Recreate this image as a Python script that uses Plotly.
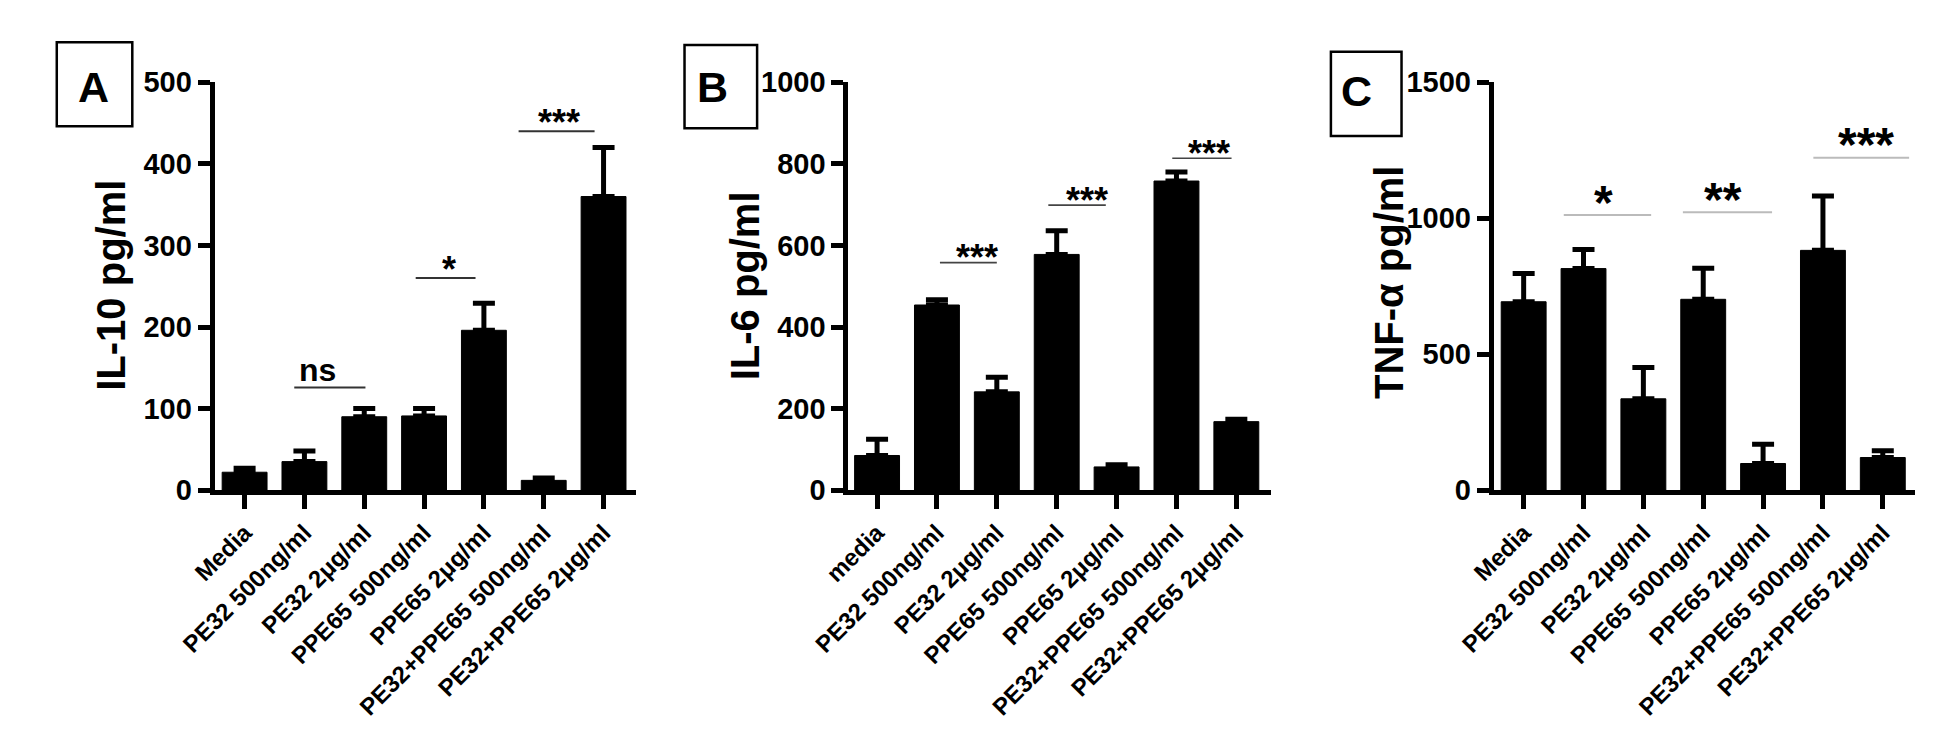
import plotly.graph_objects as go

W, H = 1933, 731
FONT = "Liberation Sans, Arial, sans-serif"

# x categories
labels_a = ["Media", "PE32 500ng/ml", "PE32 2μg/ml", "PPE65 500ng/ml",
            "PPE65 2μg/ml", "PE32+PPE65 500ng/ml", "PE32+PPE65 2μg/ml"]
labels_b = ["media", "PE32 500ng/ml", "PE32 2μg/ml", "PPE65 500ng/ml",
            "PPE65 2μg/ml", "PE32+PPE65 500ng/ml", "PE32+PPE65 2μg/ml"]
labels_c = labels_a

# means and error (upper only)
il10_mean = [22, 35, 90, 91, 196, 12, 360]
il10_err = [5, 13, 10, 9, 33, 3, 60]
il6_mean = [85, 454, 241, 578, 57, 758, 168]
il6_err = [40, 13, 36, 58, 5, 22, 6]
tnf_mean = [693, 815, 336, 702, 98, 882, 120]
tnf_err = [104, 70, 115, 114, 71, 200, 25]

# significance brackets: (line start, line end, height, text x, label)
sig_a = [(0.83, 2.02, 126, 1.22, "ns"), (2.86, 3.86, 260, 3.42, "*"),
         (4.58, 5.85, 440, 5.25, "***")]
sig_b = [(1.05, 2.0, 558, 1.67, "***"), (2.86, 3.82, 699, 3.5, "***"),
         (4.93, 5.92, 814, 5.54, "***")]
sig_c = [(0.67, 2.13, 1012, 1.33, "*"), (2.66, 4.15, 1022, 3.33, "**"),
         (4.84, 6.44, 1223, 5.72, "***")]


def px(x):
    return x / W


def py(y):
    return 1 - y / H


panels = [
    dict(labels=labels_a, mean=il10_mean, err=il10_err, sig=sig_a,
         dom=(173, 603), xr=[-0.5, 6.55], ytop=500, dtick=100,
         title="IL-10 pg/ml", tpos=(67, 273), letter="A", box=(12, 19, 89, 107),
         lpos=(49, 66), sigcol="#333333", sigw=2, sigsize=36, sigshift=9),
    dict(labels=labels_b, mean=il6_mean, err=il6_err, sig=sig_b,
         dom=(819, 1250), xr=[-0.48, 6.58], ytop=1000, dtick=200,
         title="IL-6 pg/ml", tpos=(714, 274), letter="B", box=(652, 22, 726, 109),
         lpos=(681, 66), sigcol="#444444", sigw=1.6, sigsize=36, sigshift=5),
    dict(labels=labels_c, mean=tnf_mean, err=tnf_err, sig=sig_c,
         dom=(1477, 1906), xr=[-0.5, 6.53], ytop=1500, dtick=500,
         title="TNF-α pg/ml", tpos=(1370, 270), letter="C", box=(1311, 29, 1383, 117),
         lpos=(1337, 70), sigcol="#bbbbbb", sigw=2, sigsize=48, sigshift=13),
]

fig = go.Figure()
shapes = []
annotations = []

for i, p in enumerate(panels):
    n = "" if i == 0 else str(i + 1)
    xa, ya = "x" + n, "y" + n
    fig.add_trace(go.Bar(
        x=p["labels"], y=p["mean"], xaxis=xa, yaxis=ya, width=0.75,
        marker=dict(color="black", line=dict(color="black", width=1)),
        error_y=dict(type="data", array=p["err"], arrayminus=[0] * len(p["err"]),
                     symmetric=False, color="black", thickness=5, width=11),
        showlegend=False))

    axis_x = dict(domain=[px(p["dom"][0]), px(p["dom"][1])], anchor=ya,
                  type="category", range=p["xr"], showline=True, linewidth=5,
                  linecolor="black", ticks="outside", ticklen=14, tickwidth=5,
                  tickcolor="black", tickangle=-45, showgrid=False,
                  tickfont=dict(family=FONT, size=24, color="black", weight="bold"))
    axis_y = dict(domain=[py(487.5), py(61)], anchor=xa, range=[0, p["ytop"]],
                  dtick=p["dtick"], tick0=0, showline=True, linewidth=5,
                  linecolor="black", ticks="outside", ticklen=12, tickwidth=5,
                  tickcolor="black", showgrid=False, zeroline=False,
                  tickfont=dict(family=FONT, size=29, color="black", weight="bold"))
    fig.update_layout(**{"xaxis" + n: axis_x, "yaxis" + n: axis_y})

    for x0, x1, yv, tx, txt in p["sig"]:
        shapes.append(dict(type="line", xref=xa, yref=ya, x0=x0, x1=x1, y0=yv, y1=yv,
                           line=dict(color=p["sigcol"], width=p["sigw"])))
        size = 32 if txt == "ns" else p["sigsize"]
        shift = 17 if txt == "ns" else p["sigshift"]
        annotations.append(dict(xref=xa, yref=ya, x=tx, y=yv, text=txt, showarrow=False,
                                yanchor="middle", yshift=shift,
                                font=dict(family=FONT, size=size, color="black",
                                          weight="bold")))

    bx0, by0, bx1, by1 = p["box"]
    shapes.append(dict(type="rect", xref="paper", yref="paper",
                       x0=px(bx0), x1=px(bx1), y0=py(by1), y1=py(by0),
                       line=dict(color="black", width=2.5)))
    annotations.append(dict(xref="paper", yref="paper", x=px(p["lpos"][0]),
                            y=py(p["lpos"][1]), text=p["letter"], showarrow=False,
                            xanchor="center", yanchor="middle",
                            font=dict(family=FONT, size=43, color="black", weight="bold")))
    annotations.append(dict(xref="paper", yref="paper", x=px(p["tpos"][0]),
                            y=py(p["tpos"][1]), text=p["title"], showarrow=False,
                            textangle=-90, xanchor="center", yanchor="middle",
                            font=dict(family=FONT, size=40, color="black", weight="bold")))

fig.update_layout(width=W, height=H, margin=dict(l=0, r=0, t=0, b=0),
                  paper_bgcolor="white", plot_bgcolor="white",
                  shapes=shapes, annotations=annotations, bargap=0.25)

fig.write_html("out.html")
